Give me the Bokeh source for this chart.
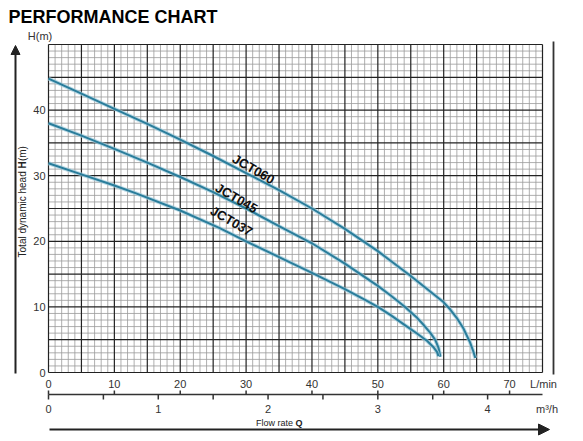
import math
from bokeh.plotting import figure
from bokeh.models import Range1d, Arrow, NormalHead
from bokeh.core.properties import value
from bokeh.embed import file_html
from bokeh.resources import INLINE

# ---- data ----
flow_060 = [0, 5, 10, 15, 20, 25, 30, 35, 40, 45, 50, 55, 60, 61, 62, 63, 64, 64.5, 64.8]
head_060 = [44.8, 42.5, 40.2, 37.9, 35.5, 33.0, 30.4, 27.8, 25.0, 21.9, 18.5, 14.7, 10.7, 9.6, 8.3, 6.7, 4.6, 3.2, 2.2]

flow_045 = [0, 5, 10, 15, 20, 25, 30, 35, 40, 45, 50, 52, 54, 56, 57, 58, 58.7, 59.2, 59.5]
head_045 = [38.0, 36.1, 34.1, 32.0, 29.8, 27.5, 25.0, 22.3, 19.7, 16.6, 13.2, 11.7, 10.1, 8.3, 7.2, 6.0, 5.0, 3.8, 2.4]

flow_037 = [0, 5, 10, 13.3, 20, 26, 30, 35, 40, 45, 48, 50, 52, 54, 56, 57.5, 58.5, 59, 59.2]
head_037 = [31.9, 30.2, 28.5, 27.3, 24.7, 22.0, 20.0, 17.6, 15.2, 12.7, 11.1, 10.0, 8.7, 7.3, 5.9, 4.8, 3.8, 3.1, 2.5]

curve_names = ["JCT060", "JCT045", "JCT037"]
lmin_ticks = [0, 10, 20, 30, 40, 50, 60, 70]
head_ticks = [0, 10, 20, 30, 40]
m3h_ticks = [0, 1, 2, 3, 4]
m3h_half_ticks = [0.5, 1.5, 2.5, 3.5]
LMIN_PER_M3H = 1000.0 / 60.0
X_MAX, Y_MAX = 75, 50
GRID_MINOR, GRID_MAJOR = 1, 5

# ---- layout (pixels) ----
W, H = 580, 438
PX0, PY0 = 48, 372            # pixel of data (0, 0)
SX, SY = 494 / 75, 328 / 50   # pixels per unit

def dx(px):
    return (px - PX0) / SX

def dy(py):
    return (PY0 - py) / SY

FONT = "Liberation Sans"
CURVE = "#2a7d9b"
HALO = "#9ccbdc"
INK = "#222222"
TXT = "#333333"

p = figure(frame_width=W, frame_height=H, min_border=0,
           x_range=Range1d(dx(0), dx(W)), y_range=Range1d(dy(H), dy(0)),
           output_backend="svg", toolbar_location=None,
           x_axis_location=None, y_axis_location=None)
p.xgrid.visible = False
p.ygrid.visible = False
p.outline_line_color = None
p.background_fill_color = "white"
p.border_fill_color = "white"

# ---- grid ----
xs_all = list(range(0, X_MAX + 1, GRID_MINOR))
ys_all = list(range(0, Y_MAX + 1, GRID_MINOR))
xs_minor = [v for v in xs_all if v % GRID_MAJOR]
ys_minor = [v for v in ys_all if v % GRID_MAJOR]
xs_major = [v for v in xs_all if v % GRID_MAJOR == 0]
ys_major = [v for v in ys_all if v % GRID_MAJOR == 0]

p.segment(x0=xs_minor, y0=[0] * len(xs_minor), x1=xs_minor, y1=[Y_MAX] * len(xs_minor),
          line_color="#9a9a9a", line_width=0.8)
p.segment(x0=[0] * len(ys_minor), y0=ys_minor, x1=[X_MAX] * len(ys_minor), y1=ys_minor,
          line_color="#9a9a9a", line_width=0.8)
p.segment(x0=xs_major, y0=[0] * len(xs_major), x1=xs_major, y1=[Y_MAX] * len(xs_major),
          line_color=INK, line_width=1.2)
p.segment(x0=[0] * len(ys_major), y0=ys_major, x1=[X_MAX] * len(ys_major), y1=ys_major,
          line_color=INK, line_width=1.2)

# ---- curves ----
for fx, hy in ((flow_060, head_060), (flow_045, head_045), (flow_037, head_037)):
    p.line(fx, hy, line_color=HALO, line_width=4, line_alpha=0.7, line_join="round")
    p.line(fx, hy, line_color=CURVE, line_width=2, line_join="round")

# curve names
name_x = [dx(233), dx(216), dx(211)]
name_y = [dy(157), dy(186), dy(209)]
p.text(x=name_x, y=name_y, text=curve_names, angle=-math.radians(30),
       text_font=value(FONT), text_font_size="13px", text_font_style="bold",
       text_color="#111111", text_align="left", text_baseline="middle")

# ---- left axis labels ----
p.text(x=[dx(45)] * len(head_ticks), y=head_ticks, text=[str(v) for v in head_ticks],
       text_font=value(FONT), text_font_size="11px", text_color=TXT,
       text_align="right", text_baseline="middle")

# ---- L/min labels ----
p.text(x=lmin_ticks, y=[dy(383)] * len(lmin_ticks), text=[str(v) for v in lmin_ticks],
       text_font=value(FONT), text_font_size="11px", text_color=TXT,
       text_align="center", text_baseline="middle")

# ---- second scale: axis line with ticks ----
y_ax = dy(394)
p.segment(x0=[0], y0=[y_ax], x1=[X_MAX], y1=[y_ax], line_color=TXT, line_width=1.5)
p.segment(x0=lmin_ticks, y0=[y_ax] * len(lmin_ticks), x1=lmin_ticks,
          y1=[y_ax + 4 / SY] * len(lmin_ticks), line_color=TXT, line_width=1.5)
m3h_all = sorted(m3h_ticks + m3h_half_ticks)
m3h_all_x = [v * LMIN_PER_M3H for v in m3h_all]
p.segment(x0=m3h_all_x, y0=[y_ax] * len(m3h_all_x), x1=m3h_all_x,
          y1=[y_ax - 5 / SY] * len(m3h_all_x), line_color=TXT, line_width=1.5)
p.text(x=[v * LMIN_PER_M3H for v in m3h_ticks], y=[dy(408)] * len(m3h_ticks),
       text=[str(v) for v in m3h_ticks],
       text_font=value(FONT), text_font_size="11px", text_color=TXT,
       text_align="center", text_baseline="middle")

# ---- unit labels / title ----
p.text(x=[dx(543), dx(546.5), dx(39.5)], y=[dy(383), dy(408), dy(35)],
       text=["L/min", "m³/h", "H(m)"],
       text_font=value(FONT), text_font_size="11px", text_color=TXT,
       text_align="center", text_baseline="middle")
p.text(x=[dx(8)], y=[dy(16.5)], text=["PERFORMANCE CHART"],
       text_font=value(FONT), text_font_size="18px", text_font_style="bold",
       text_color="#000000", text_align="left", text_baseline="middle")

# y label: Total dynamic head H(m)
yl_x, yl_y = dx(22), dy(168)
p.text(x=[yl_x], y=[yl_y], text=["Total dynamic head "], angle=math.pi / 2,
       text_font=value(FONT), text_font_size="10px", text_color=INK,
       text_align="right", text_baseline="middle")
p.text(x=[yl_x], y=[yl_y], text=["H"], angle=math.pi / 2,
       text_font=value(FONT), text_font_size="10px", text_font_style="bold",
       text_color=INK, text_align="left", text_baseline="middle")
p.text(x=[yl_x], y=[yl_y + 7.4 / SY], text=["(m)"], angle=math.pi / 2,
       text_font=value(FONT), text_font_size="10px", text_color=INK,
       text_align="left", text_baseline="middle")

# x label: Flow rate Q
p.text(x=[dx(295)], y=[dy(422)], text=["Flow rate "],
       text_font=value(FONT), text_font_size="9px", text_color=INK,
       text_align="right", text_baseline="middle")
p.text(x=[dx(295)], y=[dy(422)], text=["Q"],
       text_font=value(FONT), text_font_size="9px", text_font_style="bold",
       text_color=INK, text_align="left", text_baseline="middle")

# ---- arrows and right rule ----
p.add_layout(Arrow(x_start=dx(15), y_start=dy(373), x_end=dx(15), y_end=dy(45),
                   line_color=INK, line_width=2,
                   end=NormalHead(size=9, fill_color=INK, line_color=INK)))
p.add_layout(Arrow(x_start=dx(49), y_start=dy(429), x_end=dx(549), y_end=dy(429),
                   line_color=INK, line_width=2,
                   end=NormalHead(size=11, fill_color=INK, line_color=INK)))
p.segment(x0=[dx(553)], y0=[dy(374)], x1=[dx(553)], y1=[dy(41)],
          line_color=TXT, line_width=1.8)

open("out.html", "w").write(file_html(p, INLINE))
